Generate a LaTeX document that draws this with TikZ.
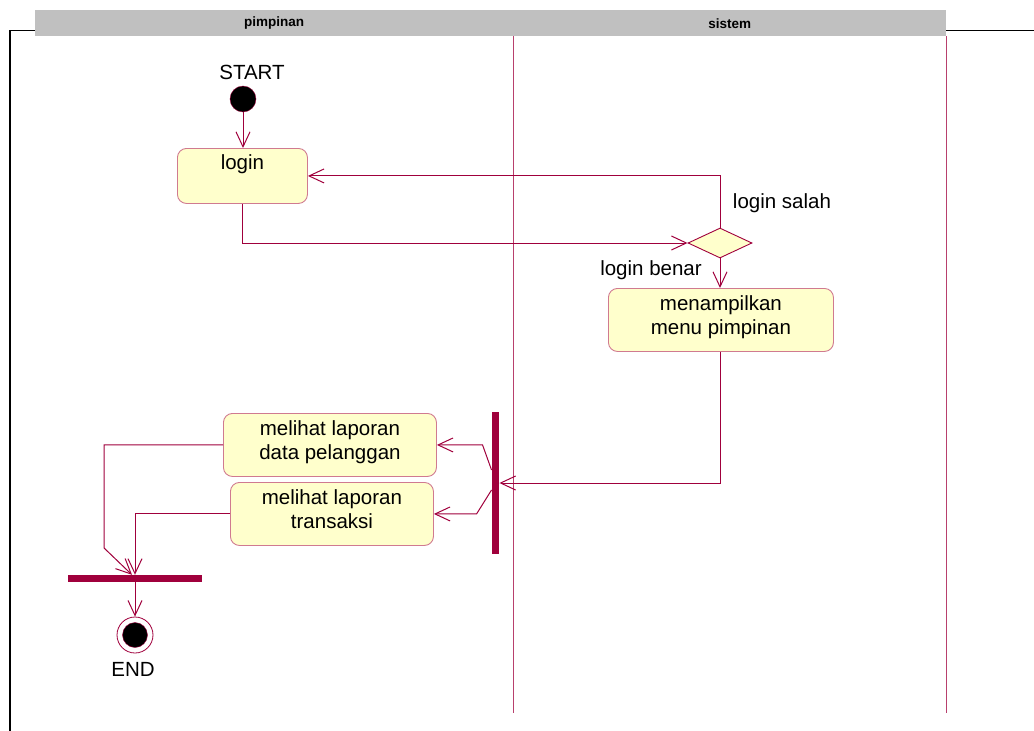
\documentclass[tikz,border=0pt]{standalone}
\usepackage{fontspec}
\setmainfont{Liberation Sans}
\usetikzlibrary{arrows.meta, positioning, shapes.geometric}
\definecolor{umlline}{HTML}{A0003C}
\definecolor{umlfill}{HTML}{FFFFCC}
\definecolor{umlborder}{HTML}{D07A90}
\definecolor{lanegray}{HTML}{C0C0C0}

\begin{document}
\begin{tikzpicture}[
    x=1pt, y=-1pt,
    % === STYLES ===
    lanehead/.style={
        rectangle,
        fill=lanegray,
        anchor=north west,
        minimum height=26pt,
        inner sep=0pt,
        font=\fontsize{13.5}{15}\selectfont\bfseries
    },
    lane/.style={
        draw=umlline!75,
        line width=0.8pt
    },
    action/.style={
        rectangle,
        draw=umlborder,
        fill=umlfill,
        rounded corners=9pt,
        line width=0.9pt,
        anchor=north west
    },
    acttext/.style={
        font=\fontsize{20.5}{24}\selectfont,
        align=center,
        inner sep=0pt
    },
    decision/.style={
        diamond,
        draw=umlline,
        fill=umlfill,
        line width=0.9pt,
        inner sep=0pt,
        minimum width=64pt,
        minimum height=30pt
    },
    bar/.style={
        rectangle,
        fill=umlline,
        inner sep=0pt
    },
    guard/.style={
        font=\fontsize{20.5}{24}\selectfont,
        inner sep=0pt
    },
    flow/.style={
        -{Straight Barb[length=15pt,width=14pt]},
        draw=umlline,
        line width=1pt
    }
]
\useasboundingbox (0,0) rectangle (1034,731);

% === FRAME AND SWIMLANES ===
\draw[line width=1.8pt] (10,731) -- (10,30.5) -- (1034,30.5);
\node[lanehead, minimum width=478pt] (head1) at (35,10) {pimpinan};
\node[lanehead, minimum width=433pt] (head2) at (513,10) {sistem};
\draw[lane] (head2.south west) -- ++(0,677);
\draw[lane] (head2.south east) -- ++(0,677);

% === PIMPINAN LANE ===
\node[guard] (starttxt) at (252,72) {START};
\node[circle, fill=black, draw=umlline, minimum size=26pt, inner sep=0pt] (start) at (243,99) {};

\node[action, minimum width=130pt, minimum height=55pt] (login) at (177,148) {};
\node[acttext, below=6pt of login.north] {login};

\node[action, minimum width=213pt, minimum height=63pt] (lapdata) at (223,413) {};
\node[acttext, below=7pt of lapdata.north] {melihat laporan\\data pelanggan};

\node[action, minimum width=203pt, minimum height=63pt] (laptrans) at (230,482) {};
\node[acttext, below=7pt of laptrans.north] {melihat laporan\\transaksi};

\node[bar, minimum width=134pt, minimum height=7pt] (join) at (135,578.5) {};

\node[circle, draw=umlline, fill=white, line width=0.8pt, minimum size=36pt, inner sep=0pt] (endo) at (135,635) {};
\node[circle, draw=umlline, fill=black, minimum size=25pt, inner sep=0pt] (endi) at (endo) {};
\node[guard] (endtxt) at (133,669) {END};

% === SISTEM LANE ===
\node[decision] (cek) at (720,243) {};
\node[guard] (salah) at (782,203) {login salah};
\node[guard] (benar) at (651,270) {login benar};

\node[action, minimum width=225pt, minimum height=63pt] (menu) at (608,288) {};
\node[acttext, below=7pt of menu.north] {menampilkan\\menu pimpinan};

\node[bar, minimum width=7.5pt, minimum height=142pt] (fork) at (495.5,483) {};

% === CONNECTIONS ===
\draw[flow] (start.south) -- (start.south |- login.north);
\draw[flow] (login.south) |- (cek.west);
\draw[flow] (cek.north) |- (login.east);
\draw[flow] (cek.south) -- (cek.south |- menu.north);
\draw[flow] (menu.south) |- (fork.east);
\draw[flow] ([yshift=13pt]fork.west) -- ([xshift=-9pt]fork.west |- lapdata.east) -- (lapdata.east);
\draw[flow] ([yshift=-7pt]fork.west) -- ([xshift=-15pt]fork.west |- laptrans.east) -- (laptrans.east);
\draw[flow] (lapdata.west) -- ++(-119,0) -- ++(0,103) -- ([xshift=-3pt]join.north);
\draw[flow] (laptrans.west) -| (join.north);
\draw[flow] (join.south) -- (endo.north);

\end{tikzpicture}
\end{document}
